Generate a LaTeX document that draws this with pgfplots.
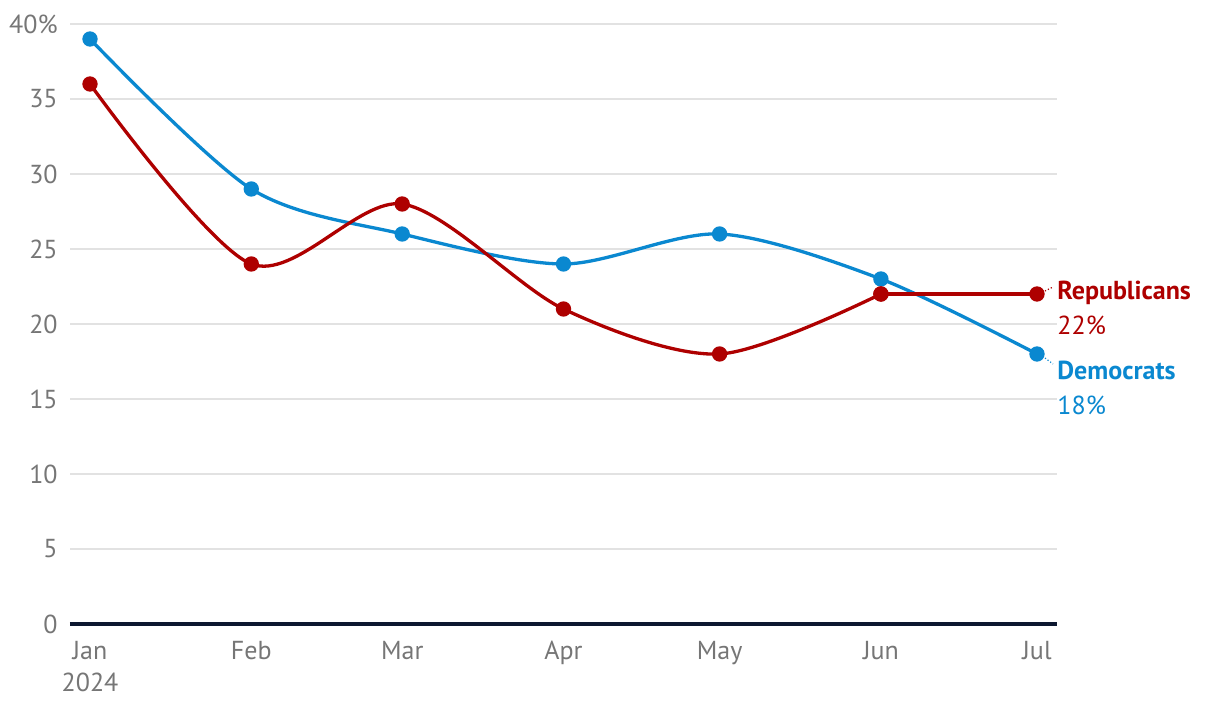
\documentclass[border=0pt]{standalone}
\usepackage{pgfplots}
\pgfplotsset{compat=1.18}
\usepackage{fontspec}
\setmainfont{PT Sans}
\definecolor{dem}{HTML}{0A88D0}
\definecolor{rep}{HTML}{AE0000}
\definecolor{tickc}{HTML}{767676}
\definecolor{gridc}{HTML}{E2E2E2}
\definecolor{basec}{HTML}{0D1730}
\begin{document}
\begin{tikzpicture}
\begin{axis}[
  at={(0,0)}, anchor=south west,
  scale only axis, width=493.5pt, height=300pt,
  xmin=-3.844, xmax=185.844, ymin=0, ymax=40,
  axis line style={draw=none},
  major tick length=0pt,
  ymajorgrids, grid style={gridc, line width=0.75pt},
  xtick={0,31,60,91,121,152,182},
  xticklabels={Jan,Feb,Mar,Apr,May,Jun,Jul},
  ytick={0,5,...,40},
  yticklabels={0,5,10,15,20,25,30,35,40\%},
  /pgf/number format/assume math mode=true,
  xticklabel style={font=\fontsize{13}{15.5}\selectfont, text=tickc, anchor=base, inner sep=0pt, yshift=-18pt},
  yticklabel style={font=\fontsize{13}{15}\selectfont, text=tickc, anchor=east, inner sep=0pt, xshift=-6pt},
  clip=false,
]
\draw[basec, line width=1.75pt] (rel axis cs:0,0) -- (rel axis cs:1,0);
\node[anchor=base, inner sep=0pt, text=tickc, font=\fontsize{13}{15.5}\selectfont] at ([yshift=-34pt]axis cs:0,0) {2024};
% Democrats
\addplot[dem, line width=1.65pt, smooth, tension=0.5, mark=*, mark size=3pt, mark options={solid, fill=dem}]
  coordinates {(0,39) (31,29) (60,26) (91,24) (121,26) (152,23) (182,18)};
% Republicans
\addplot[rep, line width=1.65pt, smooth, tension=0.5, mark=*, mark size=3pt, mark options={solid, fill=rep}]
  coordinates {(0,36) (31,24) (60,28) (91,21) (121,18) (152,22)};
\addplot[rep, line width=1.65pt, mark=*, mark size=3pt, mark options={solid, fill=rep}]
  coordinates {(152,22) (182,22)};
% end labels
\draw[rep, densely dotted, line width=0.6pt] (axis cs:182,22) ++(4pt,1.5pt) -- ++(4pt,2pt);
\draw[dem, densely dotted, line width=0.6pt] (axis cs:182,18) ++(4pt,-2pt) -- ++(4pt,-3pt);
\node[anchor=base west, inner sep=0pt, text=rep, font=\fontsize{13}{15}\selectfont\bfseries] at ([xshift=10pt, yshift=-3pt]axis cs:182,22) {Republicans};
\node[anchor=base west, inner sep=0pt, text=rep, font=\fontsize{13}{15}\selectfont] at ([xshift=10pt, yshift=-20.5pt]axis cs:182,22) {22\%};
\node[anchor=base west, inner sep=0pt, text=dem, font=\fontsize{13}{15}\selectfont\bfseries] at ([xshift=10pt, yshift=-13pt]axis cs:182,18) {Democrats};
\node[anchor=base west, inner sep=0pt, text=dem, font=\fontsize{13}{15}\selectfont] at ([xshift=10pt, yshift=-30.5pt]axis cs:182,18) {18\%};
\end{axis}
\pgfresetboundingbox
\path[use as bounding box] (-35pt,-43pt) rectangle (575pt,312pt);
\end{tikzpicture}
\end{document}
